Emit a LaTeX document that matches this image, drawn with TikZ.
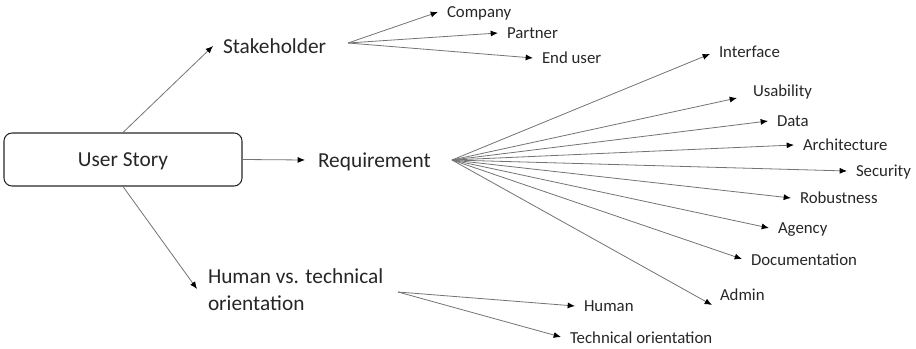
\documentclass[tikz,border=0pt]{standalone}
\usepackage{fontspec}
\setmainfont{Carlito}
\usetikzlibrary{arrows.meta}
\tikzset{
  big/.style={font=\fontsize{16}{20}\selectfont, text=black!85},
  lab/.style={anchor=west, inner xsep=6.75pt, inner ysep=0pt, outer sep=0pt, text depth=0pt, font=\fontsize{12.6}{15}\selectfont, text=black!85},
  arr/.style={draw=black!55, line width=0.6pt, -{Latex[length=5.5pt,width=4.5pt,black]}},
  boxstyle/.style={draw=black!85, line width=0.8pt, rounded corners=6pt, minimum width=178.5pt, minimum height=39.75pt, inner sep=0pt, text depth=0pt}
}
\begin{document}
\begin{tikzpicture}[x=0.75pt,y=-0.75pt]
\useasboundingbox (0,0) rectangle (916,349);
% main box
\node[boxstyle, big] (us) at (123,159.5) {User Story};
% level 1
\node[big, anchor=west, inner xsep=7.5pt, inner ysep=0pt, outer sep=0pt, text depth=0pt] (stake) at (213,46) {Stakeholder};
\node[big, anchor=west, inner xsep=9.75pt, inner ysep=0pt, outer sep=0pt, text depth=0pt] (req) at (305,160) {Requirement};
\node[big, anchor=west, inner xsep=8.25pt, inner ysep=0pt, outer sep=0pt, align=left] (hvt) at (197,290) {Human vs. technical\\orientation};
\draw[arr] (us.north) -- (stake.west);
\draw[arr] (us.east) -- (req.west);
\draw[arr] (us.south) -- ([yshift=0.75pt]hvt.west);
% hubs
\coordinate (skhub) at (348,43);
\coordinate (rqhub) at (452,160);
\coordinate (hvhub) at (398,292);
% stakeholder children
\node[lab] (company) at (438,12) {Company};
\node[lab] (partner) at (498,33) {Partner};
\node[lab] (enduser) at (533,58) {End user};
\draw[arr] (skhub) -- (company.west);
\draw[arr] (skhub) -- (partner.west);
\draw[arr] (skhub) -- (enduser.west);
% requirement children
\node[lab] (iface) at (710,52) {Interface};
\node[lab] (usab) at (744,91) {Usability};
\node[lab] (data) at (768,121) {Data};
\node[lab] (arch) at (794,145) {Architecture};
\node[lab] (sec) at (847,171) {Security};
\node[lab] (rob) at (791,198) {Robustness};
\node[lab] (agency) at (769,228) {Agency};
\node[lab] (doc) at (742,260) {Documentation};
\node[lab] (admin) at (711,295) {Admin};
\draw[arr] (rqhub) -- ([yshift=-1.5pt]iface.west);
\draw[arr] (rqhub) -- ([shift={(-7,7)}]usab.west);
\draw[arr] (rqhub) -- (data.west);
\draw[arr] (rqhub) -- (arch.west);
\draw[arr] (rqhub) -- (sec.west);
\draw[arr] (rqhub) -- (rob.west);
\draw[arr] (rqhub) -- (agency.west);
\draw[arr] (rqhub) -- ([shift={(0,-1)}]doc.west);
\draw[arr] (rqhub) -- ([shift={(1,10)}]admin.west);
% orientation children
\node[lab] (human) at (575,306) {Human};
\node[lab] (tech) at (561,338) {Technical orientation};
\draw[arr] (hvhub) -- (human.west);
\draw[arr] (hvhub) -- ([shift={(0,-1)}]tech.west);
\end{tikzpicture}
\end{document}
